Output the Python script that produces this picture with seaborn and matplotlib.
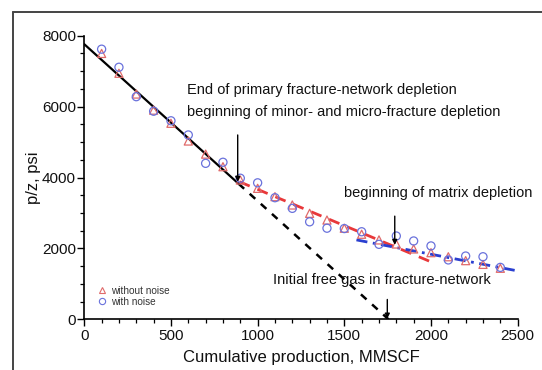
import matplotlib
matplotlib.use("Agg")
import matplotlib.pyplot as plt
from matplotlib.lines import Line2D
from matplotlib.ticker import MultipleLocator
import numpy as np
import pandas as pd
import seaborn as sns

# Cumulative production (MMSCF) and p/z readings (psi)
cum_prod = [100, 200, 300, 400, 500, 600, 700, 800, 900, 1000, 1100, 1200,
            1300, 1400, 1500, 1600, 1700, 1800, 1900, 2000, 2100, 2200, 2300, 2400]
pz_without_noise = [7500, 6940, 6355, 5900, 5530, 5030, 4660, 4305, 3930, 3695, 3460, 3225,
                    2990, 2800, 2570, 2400, 2240, 2125, 1985, 1880, 1765, 1655, 1550, 1440]
pz_with_noise = [7620, 7110, 6280, 5870, 5600, 5200, 4400, 4430, 3980, 3850, 3430, 3130,
                 2750, 2570, 2560, 2470, 2115, 2350, 2210, 2070, 1675, 1785, 1765, 1465]

# Straight-line trends (end points)
primary_x = [0, 890]
primary_y = [7760, 3825]
primary_ext_x = [890, 1755]
primary_ext_y = [3825, 0]
minor_x = [895, 2020]
minor_y = [3880, 1580]
matrix_x = [1570, 2495]
matrix_y = [2240, 1370]

# Annotation arrows: (x, y_start, y_end)
arrow_primary = (885, 5200, 3880)
arrow_matrix = (1791, 2910, 2100)
arrow_free_gas = (1748, 560, 20)

sns.set_theme(style="ticks")
plt.rcParams["font.family"] = ["Liberation Sans", "DejaVu Sans"]

fig = plt.figure(figsize=(5.42, 3.70), dpi=100)
ax = fig.add_axes([0.1555, 0.137, 0.7996, 0.7665])

df_wo = pd.DataFrame({"x": cum_prod, "y": pz_without_noise})
df_w = pd.DataFrame({"x": cum_prod, "y": pz_with_noise})

red = "#e8383a"
blue = "#2a3fd0"
tri_col = "#e06a6a"
circ_col = "#6a72dc"

sns.lineplot(x=primary_x, y=primary_y, ax=ax, color="black", lw=1.6)
sns.lineplot(x=primary_ext_x, y=primary_ext_y, ax=ax, color="black", lw=1.8,
             linestyle=(0, (3, 3)))
sns.lineplot(x=minor_x, y=minor_y, ax=ax, color=red, lw=2.0, linestyle=(0, (4, 3)))
sns.lineplot(x=matrix_x, y=matrix_y, ax=ax, color=blue, lw=2.0,
             linestyle=(0, (4, 2, 1, 2)))

sns.scatterplot(data=df_wo, x="x", y="y", ax=ax, marker="^", s=34,
                facecolors="none", edgecolor=tri_col, linewidth=0.9, zorder=3)
sns.scatterplot(data=df_w, x="x", y="y", ax=ax, marker="o", s=34,
                facecolors="none", edgecolor=circ_col, linewidth=0.9, zorder=3)

for x0, y0, y1 in (arrow_primary, arrow_matrix, arrow_free_gas):
    ax.annotate("", xy=(x0, y1), xytext=(x0, y0),
                arrowprops=dict(arrowstyle="-|>", color="black", lw=1.0,
                                mutation_scale=7, shrinkA=0, shrinkB=0),
                annotation_clip=False)

txt_kw = dict(fontsize=10.5, color="#111111", va="center", ha="left", clip_on=False)
ax.text(592, 6470, "End of primary fracture-network depletion", **txt_kw)
ax.text(592, 5860, "beginning of minor- and micro-fracture depletion", **txt_kw)
ax.text(1500, 3570, "beginning of matrix depletion", **txt_kw)
ax.text(1087, 1110, "Initial free gas in fracture-network", **txt_kw)

ax.set_xlim(0, 2500)
ax.set_ylim(0, 8000)
ax.xaxis.set_major_locator(MultipleLocator(500))
ax.xaxis.set_minor_locator(MultipleLocator(100))
ax.yaxis.set_major_locator(MultipleLocator(2000))
ax.yaxis.set_minor_locator(MultipleLocator(500))
ax.tick_params(which="major", direction="out", length=5, width=1.0,
               labelsize=11, color="black", labelcolor="#111111")
ax.tick_params(which="minor", direction="out", length=2.8, width=0.9, color="black")
ax.tick_params(axis="y", which="major", pad=1)
ax.tick_params(axis="x", which="major", pad=2)

sns.despine(ax=ax)
for side in ("left", "bottom"):
    ax.spines[side].set_linewidth(1.2)
    ax.spines[side].set_color("black")

ax.set_xlabel("Cumulative production, MMSCF", fontsize=12, color="#111111", labelpad=5)
ax.set_ylabel("p/z, psi", fontsize=12, color="#111111", labelpad=1)

handles = [
    Line2D([], [], marker="^", linestyle="none", markerfacecolor="none",
           markeredgecolor=tri_col, markersize=5, markeredgewidth=0.8),
    Line2D([], [], marker="o", linestyle="none", markerfacecolor="none",
           markeredgecolor=circ_col, markersize=4.5, markeredgewidth=0.8),
]
ax.legend(handles, ["without noise", "with noise"], loc="lower left",
          bbox_to_anchor=(0.018, 0.03), frameon=False, fontsize=7.2,
          handletextpad=0.3, labelspacing=0.12, handlelength=1.2,
          borderaxespad=0.0, labelcolor="#333333")

# outer frame of the figure panel
frame_kw = dict(transform=fig.transFigure, color="#444444", lw=1.4)
fig.add_artist(Line2D([13 / 542, 13 / 542], [0, 1 - 12 / 370], **frame_kw))
fig.add_artist(Line2D([13 / 542, 1], [1 - 12 / 370, 1 - 12 / 370], **frame_kw))

fig.savefig("out.png", dpi=100)
